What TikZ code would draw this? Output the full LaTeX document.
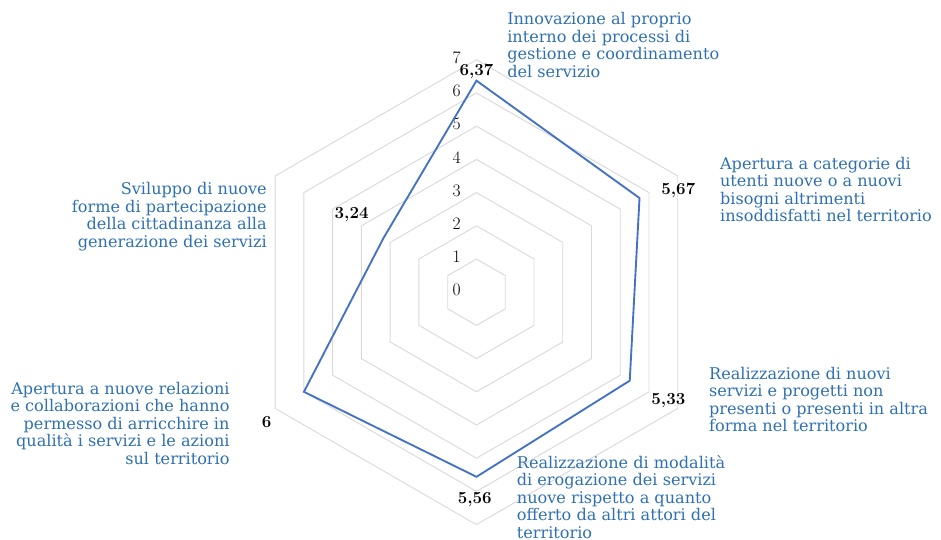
\documentclass[tikz,border=0pt]{standalone}
\usepackage{fontspec}
\usepackage{tikz}
\newfontfamily\etichetta{DejaVu Serif}
\definecolor{serieblu}{RGB}{68,114,196}
\definecolor{testoblu}{RGB}{46,112,178}
\definecolor{grigliagrigia}{RGB}{217,217,217}

\begin{document}
\begin{tikzpicture}[
		griglia/.style={line width=0.8pt, color=grigliagrigia},
		serie/.style={line width=1.6pt, color=serieblu, line join=miter},
		tacca/.style={font=\fontsize{15}{16}\selectfont, inner sep=0pt},
		valore/.style={font=\fontsize{14.5}{15}\selectfont\bfseries, inner sep=0pt},
		categoria/.style={font=\etichetta\fontsize{13.8}{15}\selectfont, color=testoblu, inner sep=0pt}]
			%%%%% START %%%%%
			\useasboundingbox (-14.35, -7.46) rectangle (13.99, 8.80);
			
			% griglia esagonale
			\foreach \r in {1,...,7}
				\draw[griglia] (90:\r) -- (30:\r) -- (-30:\r) -- (-90:\r) -- (-150:\r) -- (150:\r) -- cycle;
			
			% scala
			\foreach \r in {0,...,7}
				\node[tacca] (t\r) at (-0.6, \r+0.06) {\r};
			
			% serie
			\coordinate (p1) at (90:6.37);
			\coordinate (p2) at (30:5.67);
			\coordinate (p3) at (-30:5.33);
			\coordinate (p4) at (-90:5.56);
			\coordinate (p5) at (-150:6);
			\coordinate (p6) at (150:3.24);
			\draw[serie] (p1) -- (p2) -- (p3) -- (p4) -- (p5) -- (p6) -- cycle;
			
			% valori
			\node[valore] (v1) at (0, 6.64) {6,37};
			\node[valore] (v2) at (6.08, 3.06) {5,67};
			\node[valore] (v3) at (5.78, -3.27) {5,33};
			\node[valore] (v4) at (-0.05, -6.26) {5,56};
			\node[valore] (v5) at (-6.32, -3.90) {6};
			\node[valore] (v6) at (-3.76, 2.33) {3,24};
			
			% categorie
			\node[categoria, anchor=west, align=left] (c1) at (0.92, 7.44)
				{Innovazione al proprio\\interno dei processi di\\gestione e coordinamento\\del servizio};
			\node[categoria, anchor=west, align=left] (c2) at (7.33, 3.09)
				{Apertura a categorie di\\utenti nuove o a nuovi\\bisogni altrimenti\\insoddisfatti nel territorio};
			\node[categoria, anchor=west, align=left] (c3) at (7.0, -3.23)
				{Realizzazione di nuovi\\servizi e progetti non\\presenti o presenti in altra\\forma nel territorio};
			\node[categoria, anchor=west, align=left] (c4) at (1.21, -6.16)
				{Realizzazione di modalit\`a\\di erogazione dei servizi\\nuove rispetto a quanto\\offerto da altri attori del\\territorio};
			\node[categoria, anchor=east, align=right] (c5) at (-7.43, -3.95)
				{Apertura a nuove relazioni\\e collaborazioni che hanno\\permesso di arricchire in\\qualit\`a i servizi e le azioni\\sul territorio};
			\node[categoria, anchor=east, align=right] (c6) at (-6.31, 2.27)
				{Sviluppo di nuove\\forme di partecipazione\\della cittadinanza alla\\generazione dei servizi};
			
			%%%%% END %%%%%
		\end{tikzpicture}
\end{document}
